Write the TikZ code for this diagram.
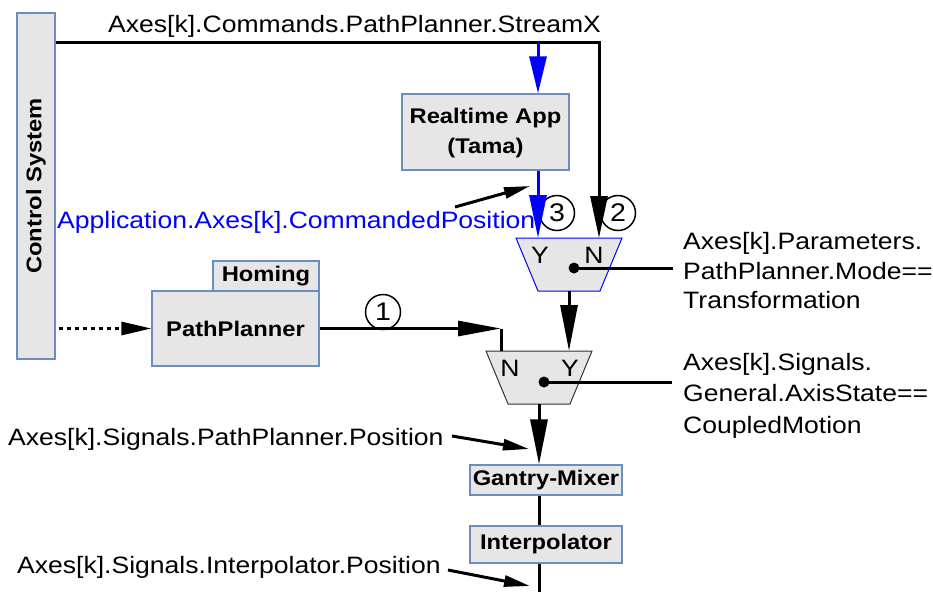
\documentclass[tikz,border=0pt]{standalone}
\usepackage{fontspec}
\setmainfont[FakeStretch=1.12]{Liberation Sans}
\usetikzlibrary{arrows.meta}
\definecolor{boxfill}{HTML}{E6E6E6}
\definecolor{boxline}{HTML}{6C8EBF}
\definecolor{muxline}{HTML}{333333}
\begin{document}
\begin{tikzpicture}[x=1pt,y=-1pt,
  txt/.style={font=\fontsize{23.7}{29.5}\selectfont, inner sep=0pt},
  bx/.style={draw=boxline, fill=boxfill, line width=1.2pt, inner sep=0pt,
    font=\fontsize{21.2}{30}\selectfont\bfseries, align=center},
  wire/.style={line width=3pt, draw=black},
  bwire/.style={line width=3pt, draw=blue},
  num/.style={circle, draw, line width=1.5pt, minimum size=35pt, inner sep=0pt,
    font=\fontsize{25.5}{28}\selectfont},
  bigtip/.style={-{Triangle[length=#1, width=17pt]}},
  smalltip/.style={-{Triangle[length=26pt, width=11pt]}},
]
\useasboundingbox (0,0) rectangle (933,592);

% boxes
\node[bx, rotate=90, minimum width=346pt, minimum height=38pt] (cs) at (36,186) {Control System};
\node[bx, minimum width=167pt, minimum height=76pt] (rt) at (485.5,132) {\raisebox{-3pt}{\begin{tabular}{@{}c@{}}Realtime App\\(Tama)\end{tabular}}};
\node[bx, minimum width=106pt, minimum height=30pt] (hom) at (266,276) {Homing};
\node[bx, minimum width=167pt, minimum height=75pt] (pp) at (235.5,328.5) {PathPlanner};
\node[bx, minimum width=152pt, minimum height=30pt] (gm) at (546,480) {Gantry-Mixer};
\node[bx, minimum width=152pt, minimum height=37pt] (ip) at (546,544.5) {Interpolator};

% upper multiplexer
\coordinate (m1tl) at (516,238);
\coordinate (m1tr) at (622,238);
\coordinate (m1br) at (600,291);
\coordinate (m1bl) at (538,291);
\coordinate (m1y) at (538,238);
\coordinate (m1n) at (599,238);
\coordinate (m1o) at (569,291);
\coordinate (m1d) at (574,268);
\draw[draw=blue, fill=boxfill, line width=1pt] (m1tl) -- (m1tr) -- (m1br) -- (m1bl) -- cycle;
\node[txt] (m1ylab) at (540,255) {Y};
\node[txt] (m1nlab) at (594,255) {N};

% lower multiplexer
\coordinate (m2tl) at (486,351);
\coordinate (m2tr) at (592,351);
\coordinate (m2br) at (570,404);
\coordinate (m2bl) at (508,404);
\coordinate (m2n) at (501,351);
\coordinate (m2y) at (569,351);
\coordinate (m2o) at (539,404);
\coordinate (m2d) at (544,382);
\draw[draw=muxline, fill=boxfill, line width=1pt] (m2tl) -- (m2tr) -- (m2br) -- (m2bl) -- cycle;
\node[txt] (m2nlab) at (510,368) {N};
\node[txt] (m2ylab) at (570,368) {Y};

% labels
\node[txt, anchor=base west] (lstream) at (108,32) {Axes[k].Commands.PathPlanner.StreamX};
\node[txt, anchor=base west, text=blue] (lapp) at (57,228) {Application.Axes[k].CommandedPosition};
\node[txt, anchor=base west, align=left] (lmode) at (683,308.5) {Axes[k].Parameters.\\PathPlanner.Mode==\\Transformation};
\node[txt, anchor=base west, align=left, font=\fontsize{23.7}{31.5}\selectfont] (lstate) at (683,433) {Axes[k].Signals.\\General.AxisState==\\CoupledMotion};
\node[txt, anchor=base west] (lpppos) at (8,445) {Axes[k].Signals.PathPlanner.Position};
\node[txt, anchor=base west] (lippos) at (17,573) {Axes[k].Signals.Interpolator.Position};

% numbered circles
\node[num] (c1) at (383,312) {1};
\node[num] (c2) at (618,213) {2};
\node[num] (c3) at (557,213) {3};

% connectors
\coordinate (t0) at (cs.south |- 0,42);
\draw[wire, bigtip=42pt] (t0) -| (m1n);
\coordinate (b0) at (m1y |- t0);
\draw[bwire, bigtip=37pt] (b0) -- (m1y |- rt.north);
\draw[bwire, bigtip=43pt] (m1y |- rt.south) -- (m1y);
\draw[wire, bigtip=46pt] (m1o) -- (m2y);
\coordinate (ppc) at (m2n |- pp.east);
\draw[wire, -{Triangle[length=43pt, width=15pt]}] (pp.east) -- (ppc);
\draw[wire] (ppc) -- (m2n);
\draw[wire, dash pattern=on 4pt off 4pt, shorten <=3pt, -{Triangle[length=30pt, width=13pt]}] (cs.south |- pp.west) -- (pp.west);
\draw[wire, bigtip=45pt] (m2o) -- (m2o |- gm.north);
\draw[wire] (m2o |- gm.south) -- (m2o |- ip.north);
\coordinate (bend) at (539,592);
\draw[wire] (m2o |- ip.south) -- (bend);

\fill (m1d) circle (5.5pt);
\coordinate (m1e) at (673,268);
\draw[wire] (m1d) -- (m1e);
\fill (m2d) circle (5.5pt);
\coordinate (m2e) at (672,382);
\draw[wire] (m2d) -- (m2e);

% pointer arrows
\coordinate (pa1s) at (455,207);
\coordinate (pa1e) at (530,186);
\draw[wire, smalltip] (pa1s) -- (pa1e);
\coordinate (pa2s) at (452,436);
\coordinate (pa2e) at (529,449);
\draw[wire, smalltip] (pa2s) -- (pa2e);
\coordinate (pa3s) at (448,570);
\coordinate (pa3e) at (530,586);
\draw[wire, smalltip] (pa3s) -- (pa3e);
\end{tikzpicture}
\end{document}
